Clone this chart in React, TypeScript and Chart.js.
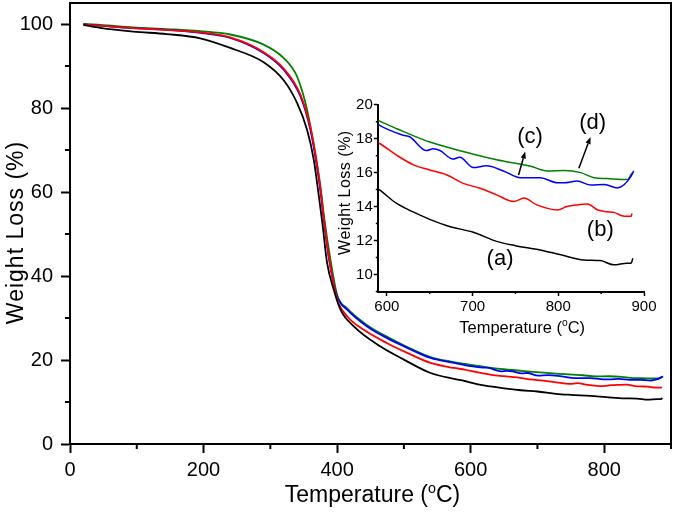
import React, { useEffect, useRef } from 'react';
import { Chart, registerables } from 'chart.js';

Chart.register(...registerables);

// ---------- data (temperature °C, weight %) ----------
const tempA = [20, 45, 95, 145, 195, 240, 290, 320, 340, 355, 365, 372, 378, 385, 395, 405, 425, 465, 500, 540, 575, 591, 611, 630, 650, 675, 700, 728, 750, 779, 803, 830, 849, 865, 880, 885, 887];
const lossA = [99.8, 99.1, 98.2, 97.6, 96.6, 94.3, 90.9, 86.6, 81.2, 74.8, 67.7, 59.8, 52.5, 43.1, 36.7, 32.0, 28.0, 23.2, 20.1, 16.9, 15.5, 15.0, 14.2, 13.7, 13.25, 12.8, 12.5, 11.95, 11.7, 11.45, 11.16, 10.86, 10.82, 10.57, 10.67, 10.67, 10.96];

const tempB = [20, 45, 95, 145, 195, 240, 290, 320, 345, 360, 369, 376, 380, 388, 400, 415, 440, 475, 505, 540, 575, 591, 611, 631, 650, 670, 689, 709, 728, 748, 760, 775, 799, 810, 822, 834, 846, 857, 865, 877, 885, 886];
const lossB = [99.9, 99.6, 99.0, 98.6, 98.0, 96.8, 93.3, 89.4, 83.2, 75.4, 67.6, 59.6, 54.0, 44.3, 34.6, 30.4, 27.2, 24.0, 21.7, 19.3, 18.1, 17.73, 17.04, 16.46, 16.16, 15.86, 15.37, 15.08, 14.69, 14.3, 14.5, 14.1, 13.8, 14.0, 14.1, 14.15, 13.8, 13.7, 13.66, 13.43, 13.43, 13.6];

const tempC = [20, 45, 95, 145, 195, 240, 290, 320, 345, 360, 369, 376, 380, 388, 400, 415, 445, 475, 505, 540, 575, 591, 603, 619, 627, 646, 654, 662, 677, 685, 701, 716, 736, 756, 779, 799, 807, 822, 838, 854, 869, 877, 885, 888];
const lossC = [99.9, 99.6, 99.0, 98.6, 97.9, 96.7, 93.1, 89.1, 82.8, 74.8, 66.9, 59.0, 53.4, 43.9, 35.1, 32.0, 28.0, 25.2, 22.9, 20.5, 19.3, 18.8, 18.5, 18.2, 18.1, 17.3, 17.4, 17.3, 16.8, 16.9, 16.3, 16.4, 16.1, 15.7, 15.7, 15.4, 15.4, 15.5, 15.27, 15.3, 15.1, 15.3, 15.8, 16.1];

const tempD = [20, 45, 95, 145, 195, 240, 290, 320, 340, 355, 367, 375, 381, 390, 400, 415, 445, 475, 505, 540, 575, 591, 611, 650, 689, 728, 768, 787, 807, 826, 842, 857, 873, 881, 885, 887];
const lossD = [100.0, 99.8, 99.2, 98.8, 98.3, 97.5, 95.1, 91.9, 87.5, 79.6, 69.3, 61.3, 53.4, 43.9, 35.5, 32.3, 28.3, 25.5, 23.1, 20.7, 19.5, 19.05, 18.6, 17.8, 17.25, 16.76, 16.37, 16.1, 16.13, 16.0, 15.7, 15.65, 15.6, 15.6, 15.9, 16.0];

const seriesTemps = [tempA, tempB, tempC, tempD];
const seriesLoss = [lossA, lossB, lossC, lossD];
const seriesNames = ['(a)', '(b)', '(c)', '(d)'];
const seriesColors = ['#000000', '#ff0000', '#0000ff', '#008000'];

// inset annotations (data units)
const insetLabelText = ['(a)', '(b)', '(c)', '(d)'];
const insetLabelT = [732, 849, 767, 840];
const insetLabelW = [10.9, 12.6, 18.1, 18.9];
const arrowFromT = [753.6, 824];
const arrowFromW = [15.86, 16.26];
const arrowToT = [761.4, 837.6];
const arrowToW = [17.24, 18.1];

const FONT = '"Liberation Sans", Arial, Helvetica, sans-serif';

function buildDatasets(width: number) {
  return seriesTemps.map((ts, i) => ({
    label: seriesNames[i],
    data: ts.map((t, j) => ({ x: t, y: seriesLoss[i][j] })),
    borderColor: seriesColors[i],
    backgroundColor: seriesColors[i],
    borderWidth: width,
    pointRadius: 0,
    fill: false,
    cubicInterpolationMode: 'monotone' as const,
  }));
}

function drawTempTitle(ctx: CanvasRenderingContext2D, cx: number, baseY: number, size: number) {
  const p1 = 'Temperature (';
  const p2 = 'o';
  const p3 = 'C)';
  ctx.save();
  ctx.fillStyle = '#000';
  ctx.textBaseline = 'alphabetic';
  ctx.textAlign = 'left';
  ctx.font = `${size}px ${FONT}`;
  const w1 = ctx.measureText(p1).width;
  const w3 = ctx.measureText(p3).width;
  ctx.font = `${size * 0.62}px ${FONT}`;
  const w2 = ctx.measureText(p2).width;
  let x = cx - (w1 + w2 + w3) / 2;
  ctx.font = `${size}px ${FONT}`;
  ctx.fillText(p1, x, baseY);
  x += w1;
  ctx.font = `${size * 0.62}px ${FONT}`;
  ctx.fillText(p2, x, baseY - size * 0.4);
  x += w2;
  ctx.font = `${size}px ${FONT}`;
  ctx.fillText(p3, x, baseY);
  ctx.restore();
}

function drawYTitle(ctx: CanvasRenderingContext2D, baseX: number, cy: number, size: number, spacing: string) {
  ctx.save();
  ctx.translate(baseX, cy);
  ctx.rotate(-Math.PI / 2);
  ctx.fillStyle = '#000';
  ctx.font = `${size}px ${FONT}`;
  (ctx as any).letterSpacing = spacing;
  ctx.textAlign = 'center';
  ctx.textBaseline = 'alphabetic';
  ctx.fillText('Weight Loss (%)', 0, 0);
  ctx.restore();
}

function drawMinorTicks(chart: any, len: number, width: number) {
  const ctx = chart.ctx;
  const xs = chart.scales.x;
  const ys = chart.scales.y;
  const area = chart.chartArea;
  ctx.save();
  ctx.strokeStyle = '#000';
  ctx.lineWidth = width;
  ctx.beginPath();
  xs.ticks.forEach((t: any) => {
    if (t.label === '' || t.label === undefined) {
      const px = xs.getPixelForValue(t.value);
      ctx.moveTo(px, area.bottom);
      ctx.lineTo(px, area.bottom + len);
    }
  });
  ys.ticks.forEach((t: any) => {
    if (t.label === '' || t.label === undefined) {
      const py = ys.getPixelForValue(t.value);
      ctx.moveTo(area.left, py);
      ctx.lineTo(area.left - len, py);
    }
  });
  ctx.stroke();
  ctx.restore();
}

function zeroPad(s: any) {
  s.paddingTop = 0;
  s.paddingBottom = 0;
  s.paddingLeft = 0;
  s.paddingRight = 0;
}

const mainPlugin = {
  id: 'mainDecor',
  afterDraw(chart: any) {
    const ctx = chart.ctx;
    const a = chart.chartArea;
    drawMinorTicks(chart, 5, 2);
    ctx.save();
    ctx.strokeStyle = '#000';
    ctx.lineWidth = 2;
    ctx.strokeRect(a.left, a.top, a.right - a.left, a.bottom - a.top);
    ctx.restore();
    drawTempTitle(ctx, (a.left + a.right) / 2 + 2, 502, 23);
    drawYTitle(ctx, 23, (a.top + a.bottom) / 2 + 9, 23, '1px');
  },
};

const insetPlugin = {
  id: 'insetDecor',
  afterDraw(chart: any) {
    const ctx = chart.ctx;
    const a = chart.chartArea;
    const xs = chart.scales.x;
    const ys = chart.scales.y;
    drawMinorTicks(chart, 2.5, 1.5);
    drawTempTitle(ctx, (a.left + a.right) / 2 + 11, a.bottom + 41.5, 16.5);
    drawYTitle(ctx, 25, (a.top + a.bottom) / 2 - 5.5, 16, '0.5px');
    // labels
    ctx.save();
    ctx.fillStyle = '#000';
    ctx.font = `22px ${FONT}`;
    ctx.textAlign = 'center';
    ctx.textBaseline = 'middle';
    insetLabelText.forEach((txt, i) => {
      ctx.fillText(txt, xs.getPixelForValue(insetLabelT[i]), ys.getPixelForValue(insetLabelW[i]));
    });
    // arrows
    ctx.strokeStyle = '#000';
    ctx.lineWidth = 1.5;
    arrowFromT.forEach((_, i) => {
      const x1 = xs.getPixelForValue(arrowFromT[i]);
      const y1 = ys.getPixelForValue(arrowFromW[i]);
      const x2 = xs.getPixelForValue(arrowToT[i]);
      const y2 = ys.getPixelForValue(arrowToW[i]);
      const ang = Math.atan2(y2 - y1, x2 - x1);
      const hl = 7;
      const hw = 2.6;
      const bx = x2 - hl * Math.cos(ang);
      const by = y2 - hl * Math.sin(ang);
      ctx.beginPath();
      ctx.moveTo(x1, y1);
      ctx.lineTo(bx, by);
      ctx.stroke();
      ctx.beginPath();
      ctx.moveTo(x2, y2);
      ctx.lineTo(bx + hw * Math.sin(ang), by - hw * Math.cos(ang));
      ctx.lineTo(bx - hw * Math.sin(ang), by + hw * Math.cos(ang));
      ctx.closePath();
      ctx.fill();
    });
    ctx.restore();
  },
};

export default function App() {
  const mainRef = useRef<HTMLCanvasElement | null>(null);
  const insetRef = useRef<HTMLCanvasElement | null>(null);

  useEffect(() => {
    if (!mainRef.current || !insetRef.current) return;
    const main = new Chart(mainRef.current, {
      type: 'line',
      data: { datasets: buildDatasets(1.8) as any },
      options: {
        responsive: false,
        animation: false,
        events: [],
        layout: { padding: { top: 3, right: 4, left: 0, bottom: 0 } },
        plugins: { legend: { display: false }, tooltip: { enabled: false } },
        scales: {
          x: {
            type: 'linear',
            min: 0,
            max: 900,
            afterFit: (s: any) => { s.height = 68; zeroPad(s); },
            border: { display: true, color: '#000', width: 2 },
            grid: {
              drawOnChartArea: false,
              drawTicks: true,
              tickLength: 9,
              tickWidth: 2,
              tickColor: (c: any) => (c.tick && c.tick.value % 200 === 0 ? '#000' : 'rgba(0,0,0,0)'),
            },
            ticks: {
              stepSize: 100,
              includeBounds: false,
              maxRotation: 0,
              autoSkip: false,
              padding: 5,
              color: '#000',
              font: { family: FONT, size: 20 },
              callback: (v: any) => (Number(v) % 200 === 0 ? String(v) : ''),
            },
          },
          y: {
            type: 'linear',
            min: 0,
            max: 105,
            afterFit: (s: any) => { s.width = 70; zeroPad(s); },
            border: { display: true, color: '#000', width: 2 },
            grid: {
              drawOnChartArea: false,
              drawTicks: true,
              tickLength: 9,
              tickWidth: 2,
              tickColor: (c: any) => (c.tick && c.tick.value % 20 === 0 ? '#000' : 'rgba(0,0,0,0)'),
            },
            ticks: {
              stepSize: 10,
              includeBounds: false,
              autoSkip: false,
              padding: 8,
              color: '#000',
              font: { family: FONT, size: 20 },
              callback: (v: any) => (Number(v) % 20 === 0 ? String(v) : ''),
            },
          },
        },
      },
      plugins: [mainPlugin],
    });

    const inset = new Chart(insetRef.current, {
      type: 'line',
      data: { datasets: buildDatasets(1.5) as any },
      options: {
        responsive: false,
        animation: false,
        events: [],
        layout: { padding: { top: 14.7, right: 21, left: 0, bottom: 0 } },
        plugins: { legend: { display: false }, tooltip: { enabled: false } },
        scales: {
          x: {
            type: 'linear',
            min: 590,
            max: 900,
            afterFit: (s: any) => { s.height = 58.5; zeroPad(s); },
            border: { display: true, color: '#000', width: 2 },
            grid: {
              drawOnChartArea: false,
              drawTicks: true,
              tickLength: 4.5,
              tickWidth: 1.5,
              tickColor: (c: any) => (c.tick && c.tick.value % 100 === 0 ? '#000' : 'rgba(0,0,0,0)'),
            },
            ticks: {
              stepSize: 50,
              includeBounds: false,
              maxRotation: 0,
              autoSkip: false,
              padding: 2,
              color: '#000',
              font: { family: FONT, size: 15 },
              callback: (v: any) => (Number(v) % 100 === 0 ? String(v) : ''),
            },
          },
          y: {
            type: 'linear',
            min: 9,
            max: 20,
            afterFit: (s: any) => { s.width = 53.3; zeroPad(s); },
            border: { display: true, color: '#000', width: 2 },
            grid: {
              drawOnChartArea: false,
              drawTicks: true,
              tickLength: 4.5,
              tickWidth: 1.5,
              tickColor: (c: any) => (c.tick && c.tick.value % 2 === 0 ? '#000' : 'rgba(0,0,0,0)'),
            },
            ticks: {
              stepSize: 1,
              includeBounds: false,
              autoSkip: false,
              padding: 1,
              color: '#000',
              font: { family: FONT, size: 15 },
              callback: (v: any) => (Number(v) % 2 === 0 ? String(v) : ''),
            },
          },
        },
      },
      plugins: [insetPlugin],
    });

    return () => {
      main.destroy();
      inset.destroy();
    };
  }, []);

  return (
    <div style={{ position: 'absolute', left: 0, top: 0, width: 675, height: 512, background: '#fff' }}>
      <canvas ref={mainRef} width={675} height={512} style={{ position: 'absolute', left: 0, top: 0 }} />
      <canvas ref={insetRef} width={340} height={260} style={{ position: 'absolute', left: 325, top: 90 }} />
    </div>
  );
}
